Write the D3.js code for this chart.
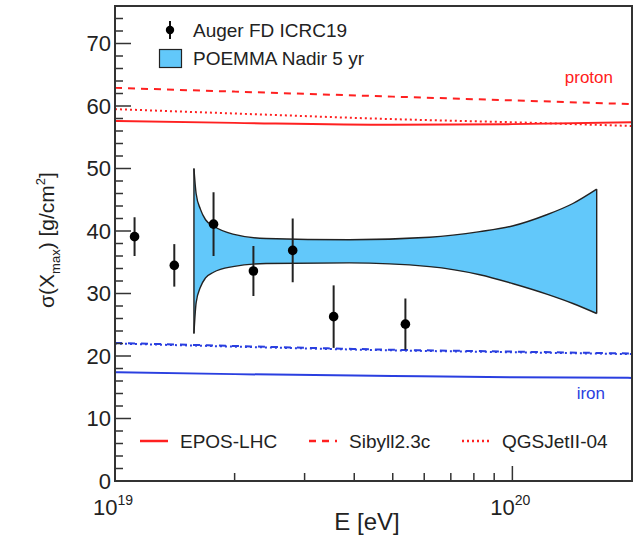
<!DOCTYPE html>
<html><head><meta charset="utf-8">
<script src="https://cdn.jsdelivr.net/npm/d3@7"></script>
<style>
body{margin:0;background:#fff;}
svg{display:block;font-family:"Liberation Sans",Arial,Helvetica,sans-serif;}
</style></head>
<body><svg id="c" width="642" height="545"></svg>
<script>
// ---- data ----
const augerE   = [1.12e19, 1.41e19, 1.77e19, 2.23e19, 2.80e19, 3.55e19, 5.38e19];
const augerVal = [39.1, 34.5, 41.1, 33.6, 36.9, 26.3, 25.1];
const augerErr = [3.1, 3.4, 5.1, 4.0, 5.1, 5.0, 4.1];

const bandE     = [1.58e19, 1.60e19, 1.64e19, 1.69e19, 1.77e19, 1.98e19, 2.40e19, 3.89e19, 6.19e19, 8.28e19, 1.00e20, 1.22e20, 1.42e20, 1.63e20];
const bandUpper = [50.0, 46.0, 43.5, 41.8, 40.8, 39.5, 38.8, 38.6, 39.0, 39.9, 40.8, 42.6, 44.4, 46.7];
const bandLower = [23.6, 28.5, 31.0, 32.5, 33.4, 34.3, 34.8, 34.9, 34.3, 33.0, 31.6, 29.9, 28.4, 26.8];

const modelE = [1e19, 2e19, 5e19, 1e20, 2e20];
const eposP   = [57.6, 57.3, 57.0, 57.1, 57.4];
const sibyllP = [62.9, 62.3, 61.5, 60.9, 60.3];
const qgsjetP = [59.5, 58.8, 57.9, 57.4, 56.8];
const eposFe   = [17.4, 17.1, 16.8, 16.6, 16.5];
const sibyllFe = [22.1, 21.6, 21.0, 20.7, 20.4];
const qgsjetFe = [22.0, 21.5, 20.9, 20.6, 20.3];

const yTicks = [0, 10, 20, 30, 40, 50, 60, 70];
const xMajor = [1e19, 1e20];
const xMinor = [2e19, 3e19, 4e19, 5e19, 6e19, 7e19, 8e19, 9e19];
const legendModels = ["EPOS-LHC", "Sibyll2.3c", "QGSJetII-04"];

// ---- layout ----
const L = 115, R = 632, T = 6, B = 481;
const svg = d3.select("#c");
const x = d3.scaleLog().domain([1e19, 2e20]).range([L, R]);
const y = d3.scaleLinear().domain([0, 76]).range([B, T]);

const red = "#ff2020", blue = "#2a3fe0";

// band
const area = d3.area().x((d,i)=>x(bandE[i])).y0((d,i)=>y(bandLower[i])).y1((d,i)=>y(bandUpper[i])).curve(d3.curveMonotoneX);
svg.append("path").attr("d", area(bandE)).attr("fill", "#62c8fa").attr("stroke", "none");
const lineU = d3.line().x((d,i)=>x(bandE[i])).y((d,i)=>y(bandUpper[i])).curve(d3.curveMonotoneX);
const lineLo = d3.line().x((d,i)=>x(bandE[i])).y((d,i)=>y(bandLower[i])).curve(d3.curveMonotoneX);
svg.append("path").attr("d", lineU(bandE)).attr("fill","none").attr("stroke","#222").attr("stroke-width",1.4);
svg.append("path").attr("d", lineLo(bandE)).attr("fill","none").attr("stroke","#222").attr("stroke-width",1.4);
[0, bandE.length-1].forEach(i=>{
  svg.append("line").attr("x1",x(bandE[i])).attr("x2",x(bandE[i]))
    .attr("y1",y(bandUpper[i])).attr("y2",y(bandLower[i])).attr("stroke","#222").attr("stroke-width",1.4);
});

// model lines
const mline = vals => d3.line().x((d,i)=>x(modelE[i])).y((d,i)=>y(vals[i])).curve(d3.curveMonotoneX)(modelE);
const styles = [null, "7,6", "2,3"];
[[eposP,0],[sibyllP,1],[qgsjetP,2]].forEach(([v,s])=>{
  svg.append("path").attr("d", mline(v)).attr("fill","none").attr("stroke",red).attr("stroke-width",2)
    .attr("stroke-dasharray", styles[s]);
});
[[eposFe,0],[sibyllFe,1],[qgsjetFe,2]].forEach(([v,s])=>{
  svg.append("path").attr("d", mline(v)).attr("fill","none").attr("stroke",blue).attr("stroke-width",2)
    .attr("stroke-dasharray", styles[s]);
});

// auger points
const g = svg.append("g");
augerE.forEach((e,i)=>{
  g.append("line").attr("x1",x(e)).attr("x2",x(e)).attr("y1",y(augerVal[i]+augerErr[i])).attr("y2",y(augerVal[i]-augerErr[i]))
    .attr("stroke","#222").attr("stroke-width",2);
  g.append("circle").attr("cx",x(e)).attr("cy",y(augerVal[i])).attr("r",4.8).attr("fill","#000");
});

// frame
svg.append("rect").attr("x",L).attr("y",T).attr("width",R-L).attr("height",B-T)
  .attr("fill","none").attr("stroke","#333").attr("stroke-width",2);

// y ticks
for (let v=0; v<=76; v+=2) {
  const major = v % 10 === 0;
  svg.append("line").attr("x1",L).attr("x2",L+(major?16:8)).attr("y1",y(v)).attr("y2",y(v))
    .attr("stroke","#333").attr("stroke-width",1.5);
}
yTicks.forEach(v=>{
  svg.append("text").attr("x",L-4).attr("y",y(v)).attr("dy","0.36em").attr("text-anchor","end")
    .attr("font-size",22).attr("fill","#222").text(v);
});
// x ticks
xMajor.forEach(v=>{
  svg.append("line").attr("x1",x(v)).attr("x2",x(v)).attr("y1",B).attr("y2",B-15).attr("stroke","#333").attr("stroke-width",1.5);
});
xMinor.forEach(v=>{
  svg.append("line").attr("x1",x(v)).attr("x2",x(v)).attr("y1",B).attr("y2",B-8).attr("stroke","#333").attr("stroke-width",1.5);
});
xMajor.forEach(v=>{
  const t = svg.append("text").attr("x",x(v)-2).attr("y",B+34).attr("text-anchor","middle").attr("font-size",22).attr("fill","#222");
  t.append("tspan").text("10");
  t.append("tspan").attr("dy",-10).attr("font-size",14).text(Math.round(Math.log10(v)));
});

// axis titles
svg.append("text").attr("x",367).attr("y",530).attr("text-anchor","middle").attr("font-size",24).attr("fill","#222").text("E [eV]");
const yt = svg.append("text").attr("transform","translate(54,240) rotate(-90)").attr("text-anchor","middle").attr("font-size",21).attr("fill","#222");
yt.append("tspan").text("σ(X");
yt.append("tspan").attr("dy",6).attr("font-size",13).text("max");
yt.append("tspan").attr("dy",-6).text(") [g/cm");
yt.append("tspan").attr("dy",-9).attr("font-size",13).text("2");
yt.append("tspan").attr("dy",9).text("]");

// top legend
svg.append("line").attr("x1",170).attr("x2",170).attr("y1",21).attr("y2",39).attr("stroke","#111").attr("stroke-width",2);
svg.append("circle").attr("cx",170).attr("cy",30).attr("r",4.2).attr("fill","#000");
svg.append("text").attr("x",193).attr("y",30).attr("dy","0.36em").attr("font-size",19).attr("fill","#222").text("Auger FD ICRC19");
svg.append("rect").attr("x",159.5).attr("y",49.5).attr("width",22).attr("height",18).attr("fill","#62c8fa").attr("stroke","#222").attr("stroke-width",1.2);
svg.append("text").attr("x",193).attr("y",58).attr("dy","0.36em").attr("font-size",19).attr("fill","#222").text("POEMMA Nadir 5 yr");

// labels
svg.append("text").attr("x",613).attr("y",77).attr("dy","0.36em").attr("text-anchor","end").attr("font-size",17).attr("fill",red).text("proton");
svg.append("text").attr("x",605).attr("y",393).attr("dy","0.36em").attr("text-anchor","end").attr("font-size",17).attr("fill",blue).text("iron");

// bottom legend
const legX = [[140,168,180],[309,337,349],[462,492,502]];
legendModels.forEach((name,i)=>{
  svg.append("line").attr("x1",legX[i][0]).attr("x2",legX[i][1]).attr("y1",441).attr("y2",441)
    .attr("stroke",red).attr("stroke-width",2.5).attr("stroke-dasharray",styles[i]);
  svg.append("text").attr("x",legX[i][2]).attr("y",441).attr("dy","0.36em").attr("font-size",19).attr("fill","#222").text(name);
});
</script></body></html>
